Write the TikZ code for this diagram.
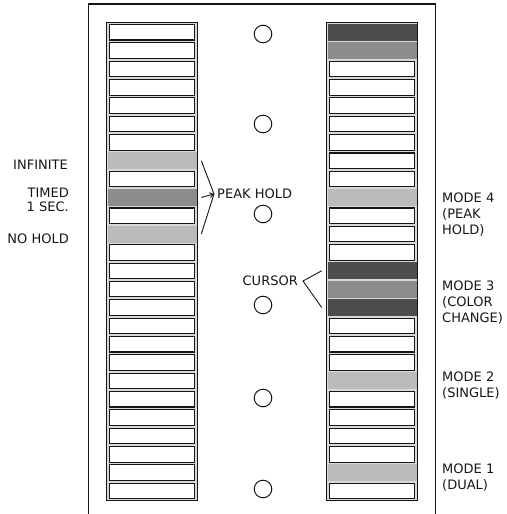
\documentclass[tikz,border=0pt]{standalone}
\usepackage{fontspec}
\setmainfont{DejaVu Sans}
\usetikzlibrary{arrows.meta,positioning}
\definecolor{mtInk}{HTML}{161616}
\definecolor{mtTray}{HTML}{D8D8D8}
\definecolor{mtLight}{HTML}{BBBBBB}
\definecolor{mtMid}{HTML}{8C8C8C}
\definecolor{mtDark}{HTML}{4D4D4D}
\tikzset{
  mtFrame/.style={draw=mtInk,line width=1.3pt},
  mtColumn/.style={draw=mtInk,fill=mtTray,line width=0.8pt,inner sep=0pt,
    minimum width=91.2pt,minimum height=478.2pt},
  mtBar/.style={draw=mtInk,fill=white,line width=1.1pt,inner sep=0pt,
    minimum width=85.5pt,minimum height=15.5pt},
  mtLit/.style={draw=none,inner sep=0pt,minimum width=89pt,minimum height=17pt},
  mtHole/.style={circle,draw=mtInk,line width=1pt,fill=white,inner sep=0pt,
    minimum size=17.6pt},
  mtText/.style={font=\fontsize{13}{16}\selectfont,text=mtInk,inner sep=0pt},
  mtLine/.style={draw=mtInk,line width=0.9pt},
  mtArrow/.style={mtLine,-{Straight Barb[length=3.5pt,width=5pt]}}
}

\begin{document}
\begin{tikzpicture}[x=1pt,y=-1pt]
\useasboundingbox (0,0) rectangle (506,514);
% panel
\draw[mtFrame] (88.5,514) -- (88.5,4) -- (435.5,4) -- (435.5,514);
\node[mtColumn] (colL) at (152,261.5) {};
\node[mtColumn] (colR) at (372,261.5) {};
% segments
\foreach \i in {1,...,26}{
  \node[mtBar] (L\i) at (152,{32.25+(\i-1)*18.35}) {};
  \node[mtBar] (R\i) at (372,{32.25+(\i-1)*18.35}) {};
}
\foreach \i/\c in {8/mtLight,10/mtMid,12/mtLight}
  \node[mtLit,fill=\c] (L\i-lit) at (L\i) {};
\foreach \i/\c in {1/mtDark,2/mtMid,10/mtLight,14/mtDark,15/mtMid,16/mtDark,20/mtLight,25/mtLight}
  \node[mtLit,fill=\c] (R\i-lit) at (R\i) {};
% mounting holes
\foreach \y [count=\k] in {34,124,214,305,398,489}
  \node[mtHole] (H\k) at (263,\y) {};
% left labels
\node[mtText,anchor=east] (infinite) at (68,165) {INFINITE};
\node[mtText,anchor=east,align=right,font=\fontsize{13}{14}\selectfont]
  (timed) at (69,200) {TIMED\\1 SEC.};
\node[mtText,anchor=east] (nohold) at (69,239) {NO HOLD};
\node[mtText,anchor=west] (peak) at (217,194) {PEAK HOLD};
\node[mtText,anchor=east] (cursor) at (298,281) {CURSOR};
% modes
\node[mtText,anchor=west,align=left] (mode4) at (442,215) {MODE 4\\(PEAK\\HOLD)};
\node[mtText,anchor=west,align=left] (mode3) at (442,303) {MODE 3\\(COLOR\\CHANGE)};
\node[mtText,anchor=west,align=left] (mode2) at (442,386) {MODE 2\\(SINGLE)};
\node[mtText,anchor=west,align=left] (mode1) at (442,478) {MODE 1\\(DUAL)};
% brackets
\coordinate (peakTip) at ([xshift=-3pt]peak.west);
\coordinate (cursorTip) at ([xshift=5pt]cursor.east);
\draw[mtLine] ([xshift=6pt]L8.east) -- (peakTip) -- ([xshift=6pt]L12.east);
\draw[mtArrow] ([xshift=6pt]L10.east) -- (peakTip);
\draw[mtLine] ([xshift=-7pt]R14.west) -- (cursorTip) -- ([xshift=-7pt]R16.west);
\end{tikzpicture}
\end{document}
